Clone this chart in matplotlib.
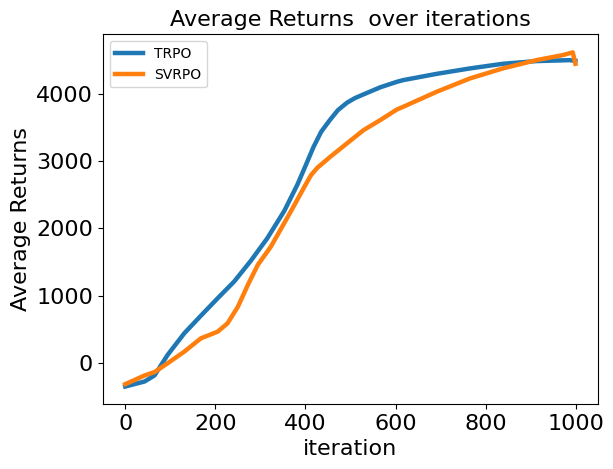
import numpy as np
import matplotlib
matplotlib.use('Agg')
import matplotlib.pyplot as plt

# values
trpo_iter = [0, 20, 43, 65, 94, 131, 168, 205, 242, 279, 315, 353, 382, 400, 418, 435,
             455, 472, 492, 510, 529, 566, 603, 617, 691, 765, 838, 912, 986, 999]
trpo_ret = [-355, -320, -280, -190, 115, 437, 700, 958, 1210, 1520, 1850, 2260, 2650, 2930, 3214, 3440,
            3620, 3760, 3870, 3940, 3995, 4100, 4182, 4207, 4300, 4381, 4450, 4490, 4504, 4494]

svrpo_iter = [0, 20, 43, 65, 94, 131, 168, 205, 227, 250, 272, 294, 323, 353, 374,
              396, 412, 426, 455, 492, 529, 566, 603, 617, 691, 765, 838, 912, 971, 993, 999]
svrpo_ret = [-320, -260, -190, -140, -9, 164, 363, 461, 586, 833, 1156, 1454, 1726, 2080, 2330,
             2600, 2790, 2900, 3065, 3265, 3463, 3612, 3770, 3810, 4033, 4232, 4381, 4504, 4579, 4620, 4450]

fig = plt.figure(figsize=(6.13, 4.69), dpi=100)
ax = fig.add_axes([0.1675, 0.1386, 0.808, 0.788])

ax.plot(trpo_iter, trpo_ret, color='#1f77b4', linewidth=3.2, label='TRPO')
ax.plot(svrpo_iter, svrpo_ret, color='#ff7f0e', linewidth=3.2, label='SVRPO')

ax.set_title('Average Returns  over iterations', fontsize=16)
ax.set_xlabel('iteration', fontsize=16)
ax.set_ylabel('Average Returns', fontsize=16)
ax.set_xticks([0, 200, 400, 600, 800, 1000])
ax.set_yticks([0, 1000, 2000, 3000, 4000])
ax.tick_params(labelsize=16)
ax.set_xlim(-50, 1049)
ax.set_ylim(-615, 4887)
ax.legend(loc='upper left', fontsize=10)

plt.savefig('out.png', dpi=100)
